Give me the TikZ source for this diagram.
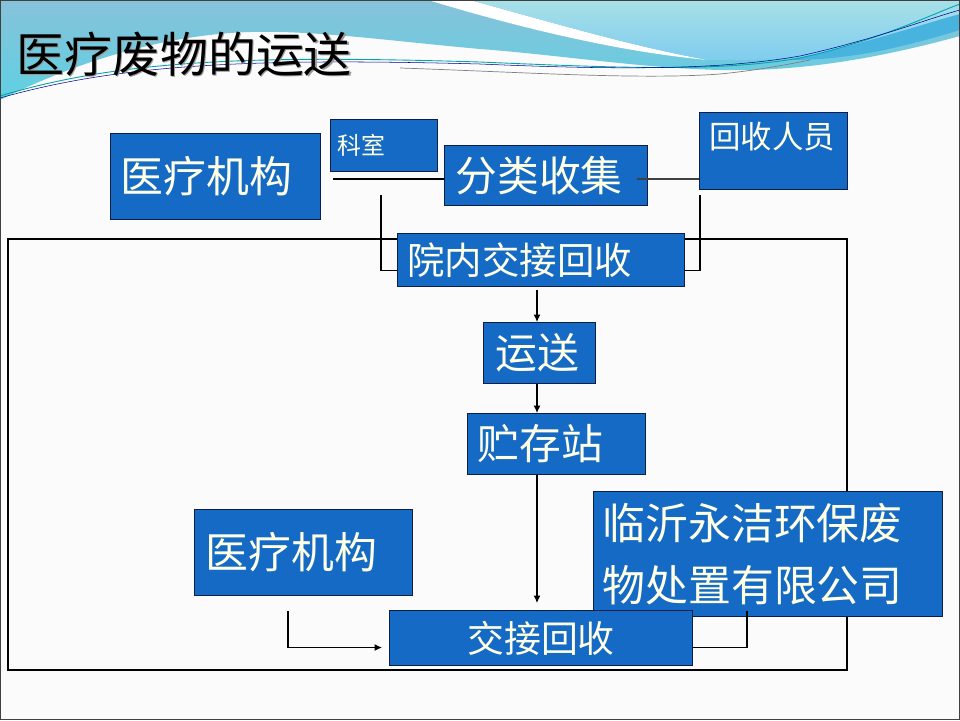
\documentclass[tikz,border=0pt]{standalone}
\usepackage{fontspec}
\setmainfont{Noto Sans CJK SC}
\usetikzlibrary{arrows.meta}
\definecolor{boxblue}{RGB}{20,106,196}
\definecolor{boxline}{RGB}{15,30,70}
\definecolor{boxtext}{RGB}{255,255,228}
\definecolor{steel}{RGB}{134,194,218}
\definecolor{cyanlow}{RGB}{96,208,226}
\definecolor{palecyan}{RGB}{168,224,232}
\definecolor{skyblue}{RGB}{126,204,238}
\definecolor{bandblue}{RGB}{73,179,224}
\definecolor{paper}{RGB}{251,251,251}
\begin{document}
\begin{tikzpicture}[x=0.02cm, y=-0.02cm,
    box/.style={draw=boxline, line width=0.6pt, fill=boxblue, text=boxtext,
        anchor=north west, inner ysep=0pt, align=left},
    link/.style={line width=0.6pt},
    arr/.style={link, -{Latex[length=1.5mm,width=1.4mm]}}]
    \useasboundingbox (0,0) rectangle (960,720);

    % paper
    \fill[paper] (0,0) rectangle (960,720);

    % banner
    \shade[top color=steel, bottom color=cyanlow] (0,0) -- (960,0) -- (960,36)
        .. controls (880,58) and (800,72) .. (720,70)
        .. controls (640,68) and (560,55) .. (480,49)
        .. controls (380,40) and (300,28) .. (230,33)
        .. controls (140,40) and (60,70) .. (0,100) -- cycle;
    \fill[white] (428,0) -- (470,0) .. controls (560,25) and (640,48) .. (708,60)
        .. controls (620,52) and (520,28) .. (428,0) -- cycle;
    \shade[top color=palecyan, bottom color=skyblue] (470,0) -- (960,0) -- (960,25)
        .. controls (880,50) and (800,62) .. (708,60)
        .. controls (640,48) and (560,25) .. (470,0) -- cycle;
    \fill[bandblue] (790,60) .. controls (860,45) and (920,25) .. (960,14) -- (960,30)
        .. controls (900,48) and (850,60) .. (790,60) -- cycle;
    \draw[teal!70!cyan, line width=0.5pt] (0,96) .. controls (120,60) and (250,55) .. (480,62)
        .. controls (620,68) and (720,72) .. (800,58) .. controls (880,40) and (930,15) .. (960,4);
    \draw[blue!60!black, line width=0.3pt] (0,98) .. controls (120,64) and (250,58) .. (480,64)
        .. controls (620,70) and (720,70) .. (800,56) .. controls (880,38) and (930,18) .. (960,10);
    \draw[gray, line width=0.4pt] (400,68) .. controls (520,72) and (640,80) .. (720,74)
        .. controls (760,70) and (790,64) .. (810,60);

    % title
    \node[anchor=base west, text=gray!80, font=\fontsize{27.3pt}{30pt}\selectfont] (ttshadow) at (11.5,73.5) {医疗废物的运送};
    \node[anchor=base west, text=black, font=\fontsize{27.3pt}{30pt}\selectfont] (tt) at (10,72) {医疗废物的运送};

    % frame
    \draw[line width=0.85pt] (8,239) rectangle (847,670);

    % boxes top
    \node[box, inner xsep=2mm, text width=38mm, minimum height=17.2mm,
        font=\fontsize{24.4pt}{28pt}\selectfont] (yl1) at (110,133) {医疗机构};
    \node[box, inner xsep=1.4mm, text width=18.6mm, minimum height=10.4mm,
        font=\fontsize{13.6pt}{16pt}\selectfont] (ks) at (330,119) {科室};
    \node[box, inner xsep=2.2mm, text width=36.2mm, minimum height=12mm,
        font=\fontsize{23.8pt}{28pt}\selectfont] (fl) at (444,145) {分类收集};
    \node[box, inner xsep=2mm, text width=25.6mm, text height=7.2mm, text depth=8.2mm,
        font=\fontsize{17.9pt}{21pt}\selectfont] (hs) at (699,112) {回收人员};
    \node[box, inner xsep=2mm, text width=53.4mm, minimum height=10.6mm,
        font=\fontsize{21.3pt}{25pt}\selectfont] (yn) at (397,233) {院内交接回收};

    % boxes middle
    \node[box, inner xsep=2.4mm, text width=17.6mm, minimum height=12.2mm,
        font=\fontsize{23.8pt}{28pt}\selectfont] (ys) at (483,322) {运送};
    \node[box, inner xsep=2mm, text width=31.6mm, minimum height=12.2mm,
        font=\fontsize{23.8pt}{28pt}\selectfont] (zc) at (467,413) {贮存站};

    % boxes bottom
    \node[box, inner xsep=2.2mm, text width=39.2mm, minimum height=17.2mm,
        font=\fontsize{24.4pt}{28pt}\selectfont] (yl2) at (194,509) {医疗机构};
    \node[box, inner xsep=1.8mm, text width=66.2mm, minimum height=25mm,
        font=\fontsize{24.4pt}{35.7pt}\selectfont] (lg) at (593,491) {临沂永洁环保废\\物处置有限公司};
    \node[box, align=center, inner xsep=2mm, text width=56.6mm, minimum height=11mm,
        font=\fontsize{21pt}{25pt}\selectfont] (jj) at (389,610) {交接回收};

    % links top
    \coordinate (k1) at (333,179);
    \draw[link] (k1) -- (k1 -| fl.west);
    \coordinate (k2) at (637,179);
    \draw[link, darkgray] (k2) -- (k2 -| hs.west);
    \coordinate (k3) at (381,195);
    \draw[link] (k3) |- ([yshift=-2.1mm]yn.west);
    \coordinate (k4) at (700,195);
    \draw[link] (k4) |- ([yshift=-2.1mm]yn.east);

    % arrows down
    \coordinate (a1) at (537,290);
    \draw[arr] (a1) -- (a1 |- ys.north);
    \draw[arr] (a1 |- ys.south) -- (a1 |- zc.north);
    \coordinate (a3) at (537,603);
    \draw[arr] (a3 |- zc.south) -- (a3);

    % links bottom
    \coordinate (b1) at (288,611);
    \draw[arr] (b1) |- ([xshift=-1.4mm,yshift=-1.9mm]jj.west);
    \coordinate (b3) at (747,611);
    \draw[link] (b3) |- ([yshift=-1.9mm]jj.east);

    % slide border
    \draw[darkgray, line width=0.6pt] (0.8,0.8) rectangle (959.2,719.2);
\end{tikzpicture}
\end{document}
